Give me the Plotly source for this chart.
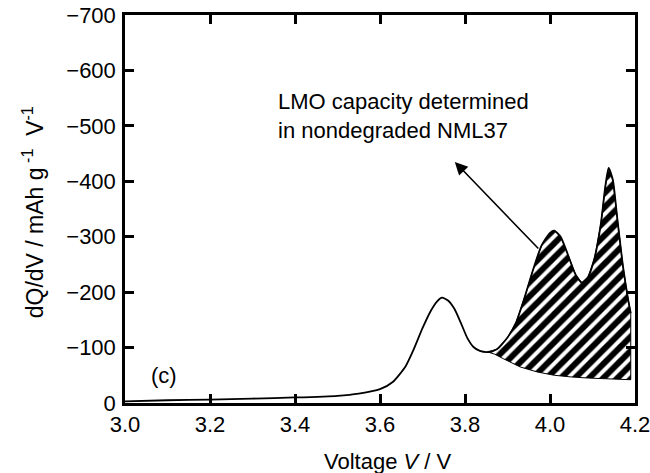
import plotly.graph_objects as go

# Main dQ/dV curve (3.0 V up to the onset of the LMO region)
v_main = [3.00, 3.10, 3.20, 3.30, 3.40, 3.50, 3.55, 3.60, 3.63, 3.66, 3.68, 3.70, 3.72, 3.735, 3.746,
          3.76, 3.775, 3.79, 3.805, 3.82, 3.835, 3.854]
q_main = [-3, -5, -6, -8, -10, -13, -17, -25, -38, -66, -98, -135, -167, -184, -190,
          -185, -170, -145, -118, -101, -94, -92]

# Upper boundary of the hatched LMO region
v_lmo = [3.854, 3.875, 3.90, 3.92, 3.94, 3.96, 3.98, 4.00, 4.01, 4.025, 4.04, 4.06, 4.075, 4.09,
         4.105, 4.12, 4.13, 4.138, 4.148, 4.158, 4.172, 4.184, 4.19]
q_lmo = [-92, -97, -118, -145, -190, -240, -284, -307, -311, -300, -272, -232, -217, -228,
         -262, -325, -390, -424, -402, -335, -245, -186, -162]

# Lower boundary (baseline) of the hatched LMO region
v_base = [3.854, 3.87, 3.89, 3.93, 3.97, 4.01, 4.05, 4.09, 4.14, 4.19]
q_base = [-92, -88, -80, -65, -56, -50, -47, -45, -43, -42]

x_ticks = [3.0, 3.2, 3.4, 3.6, 3.8, 4.0, 4.2]
y_ticks = [0, -100, -200, -300, -400, -500, -600, -700]

FONT = "Liberation Sans, Arial, sans-serif"

fig = go.Figure()

# hatched area: upper curve then baseline back
poly_x = v_lmo + [v_lmo[-1]] + v_base[::-1]
poly_y = q_lmo + [q_base[-1]] + q_base[::-1]
fig.add_trace(go.Scatter(
    x=poly_x, y=poly_y, mode="lines", fill="toself",
    line=dict(color="black", width=1),
    fillcolor="black",
    fillpattern=dict(shape="/", bgcolor="black", fgcolor="white", fgopacity=1, size=10, solidity=0.4),
    hoverinfo="skip", showlegend=False,
))

# main line
fig.add_trace(go.Scatter(
    x=v_main + v_lmo[1:], y=q_main + q_lmo[1:], mode="lines",
    line=dict(color="black", width=1.8, shape="spline", smoothing=0.6),
    showlegend=False,
))

axis_common = dict(
    showline=True, linecolor="black", linewidth=2.5, mirror="ticks",
    ticks="inside", ticklen=9, tickwidth=2.5, tickcolor="black",
    showgrid=False, zeroline=False, automargin=False, ticklabeloverflow="allow",
    tickfont=dict(family=FONT, size=22, color="black"),
)

fig.update_xaxes(range=[3.0, 4.2], tickvals=x_ticks, tickformat=".1f", **axis_common)
fig.update_yaxes(range=[0, -700], tickvals=y_ticks, ticklabelstandoff=2, **axis_common)

# x axis title
fig.add_annotation(
    xref="paper", yref="paper", x=0.516, y=-0.1134, showarrow=False,
    text="Voltage <i>V</i> / V", xanchor="center", yanchor="top",
    font=dict(family=FONT, size=22, color="black"),
)

# y axis title
fig.add_annotation(
    xref="paper", yref="paper", x=-0.18, y=0.492, textangle=-90, showarrow=False,
    text="dQ/dV / mAh g<sup> -1</sup>  V<sup>-1</sup>",
    font=dict(family=FONT, size=23, color="black"), xanchor="center", yanchor="middle",
)

fig.add_annotation(
    x=3.355, y=-518, xref="x", yref="y", xanchor="left", yanchor="middle", align="left",
    text="LMO capacity determined<br>in nondegraded NML37", showarrow=False,
    font=dict(family=FONT, size=22, color="black"),
)

fig.add_annotation(
    x=3.776, y=-435, ax=3.976, ay=-276, xref="x", yref="y", axref="x", ayref="y",
    text="", showarrow=True, arrowhead=2, arrowsize=1.6, arrowwidth=1.6, arrowcolor="black",
)

fig.add_annotation(
    x=3.092, y=-50, xref="x", yref="y", text="(c)", showarrow=False,
    font=dict(family=FONT, size=22, color="black"),
)

fig.update_layout(
    width=650, height=473,
    margin=dict(l=125, r=15, t=15, b=70),
    paper_bgcolor="white", plot_bgcolor="white",
)

fig.write_html("out.html")
